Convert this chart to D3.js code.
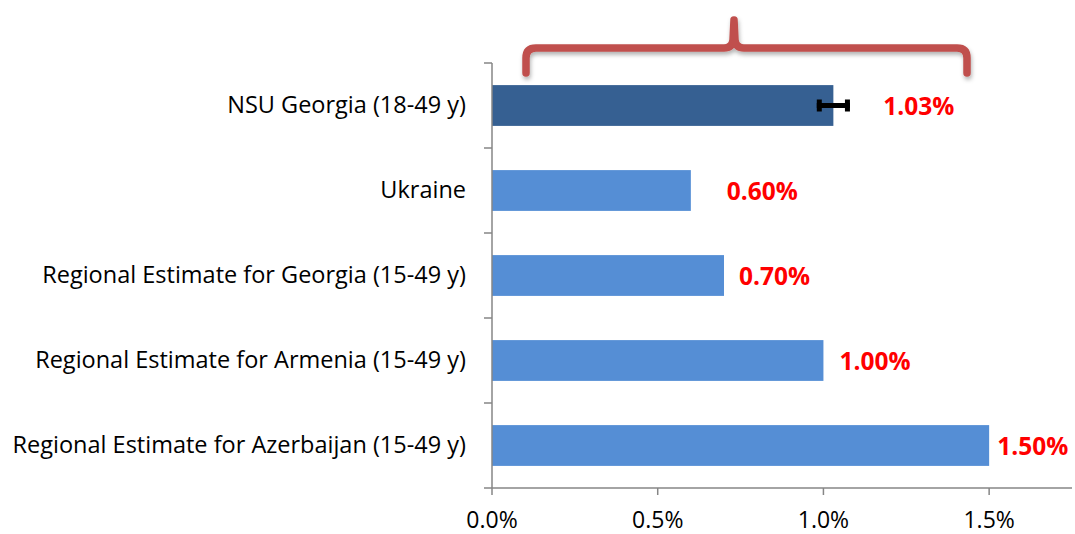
<!DOCTYPE html>
<html><head><meta charset="utf-8">
<script src="https://cdn.jsdelivr.net/npm/d3@7"></script>
<style>body{margin:0;background:#fff}svg{display:block}</style>
</head><body><svg id="c" width="1075" height="534"></svg>
<script>
const categories = ["NSU Georgia (18-49 y)", "Ukraine ", "Regional Estimate for Georgia (15-49 y)", "Regional Estimate for Armenia (15-49 y)", "Regional Estimate for Azerbaijan (15-49 y)"];
const values = [1.03, 0.60, 0.70, 1.00, 1.50];
const valueLabels = ["1.03%", "0.60%", "0.70%", "1.00%", "1.50%"];
const errorLow = [0.98, null, null, null, null];
const errorHigh = [1.08, null, null, null, null];
const xTicks = [0, 0.5, 1.0, 1.5];
const xTickLabels = ["0.0%", "0.5%", "1.0%", "1.5%"];

(function(){
const svg = d3.select("#c");
const mL = 492, mR = 1072, mT = 63, mB = 488;
const x = d3.scaleLinear().domain([0, 1.75]).range([mL, mR]);
const y = d3.scaleBand().domain(categories).range([mT, mB]).paddingInner(0.52).paddingOuter(0.26);
const axisColor = "#868686";
const fontFam = "'Open Sans', 'Liberation Sans', sans-serif";

const defs = svg.append("defs");
const f = defs.append("filter").attr("id","sh").attr("x","-10%").attr("y","-50%").attr("width","120%").attr("height","200%");
f.append("feDropShadow").attr("dx",1).attr("dy",3).attr("stdDeviation",2).attr("flood-color","#000").attr("flood-opacity",0.3);

svg.append("g").selectAll("rect").data(categories).join("rect")
  .attr("x", x(0)).attr("y", d => y(d))
  .attr("width", (d,i) => x(values[i]) - x(0))
  .attr("height", y.bandwidth())
  .attr("fill", (d,i) => i === 0 ? "#366092" : "#558ED5");

categories.forEach((c,i) => {
  if (errorLow[i] == null) return;
  const cy = y(c) + y.bandwidth()/2;
  const g = svg.append("g").attr("fill","#000");
  g.append("rect").attr("x", x(errorLow[i])).attr("width", x(errorHigh[i]) - x(errorLow[i])).attr("y", cy-2.5).attr("height", 5);
  g.append("rect").attr("x", x(errorLow[i])).attr("width", 5).attr("y", cy-6).attr("height", 12);
  g.append("rect").attr("x", x(errorHigh[i])-5).attr("width", 5).attr("y", cy-6).attr("height", 12);
});

const labelOffsets = [50, 36, 15, 16, 8];
svg.append("g").selectAll("text").data(categories).join("text")
  .attr("x", (d,i) => x(values[i]) + labelOffsets[i])
  .attr("y", (d,i) => y(d) + y.bandwidth()/2 + 3)
  .attr("dominant-baseline","middle")
  .attr("fill","#FF0000").attr("font-weight","bold")
  .attr("font-family", fontFam).attr("font-size", 24.5)
  .text((d,i) => valueLabels[i]);

const yAxisG = svg.append("g");
yAxisG.append("line").attr("x1", mL).attr("x2", mL).attr("y1", mT).attr("y2", mB)
  .attr("stroke", axisColor).attr("stroke-width", 1.5);
const bounds = categories.map(c => y(c) - y.step()*y.paddingInner()/2);
bounds.push(mB);
yAxisG.selectAll("line.t").data(bounds).join("line").attr("class","t")
  .attr("x1", mL-8).attr("x2", mL).attr("y1", d=>d).attr("y2", d=>d)
  .attr("stroke", axisColor).attr("stroke-width", 1.5);
yAxisG.selectAll("text").data(categories).join("text")
  .attr("x", 466).attr("y", d => y(d) + y.bandwidth()/2 + 1)
  .attr("text-anchor","end").attr("dominant-baseline","middle")
  .attr("font-family", fontFam).attr("font-size", 23.5).attr("fill","#000")
  .text(d => d);

const xAxisG = svg.append("g");
xAxisG.append("line").attr("x1", mL).attr("x2", mR).attr("y1", mB).attr("y2", mB)
  .attr("stroke", axisColor).attr("stroke-width", 1.5);
xAxisG.selectAll("line.t").data(xTicks).join("line").attr("class","t")
  .attr("x1", d=>x(d)).attr("x2", d=>x(d)).attr("y1", mB).attr("y2", mB+7)
  .attr("stroke", axisColor).attr("stroke-width", 1.5);
xAxisG.selectAll("text").data(xTicks).join("text")
  .attr("x", d=>x(d)).attr("y", 522).attr("text-anchor","middle").attr("dominant-baseline","middle")
  .attr("font-family", fontFam).attr("font-size", 23).attr("fill","#000")
  .text((d,i) => xTickLabels[i]);

const bx0 = 526, bx1 = 967, bmid = 734, byH = 48, byEnd = 73, byTop = 20, r = 10;
const p = `M${bx0},${byEnd} L${bx0},${byH+r} Q${bx0},${byH} ${bx0+r},${byH} L${bmid-10},${byH} Q${bmid-2},${byH} ${bmid-1},${byH-8} L${bmid},${byTop} M${bmid},${byTop} L${bmid+1},${byH-8} Q${bmid+2},${byH} ${bmid+10},${byH} L${bx1-r},${byH} Q${bx1},${byH} ${bx1},${byH+r} L${bx1},${byEnd}`;
svg.append("path").attr("d", p).attr("fill","none").attr("stroke","#C0504D")
  .attr("stroke-width", 7.5).attr("stroke-linecap","round").attr("stroke-linejoin","round")
  .attr("filter","url(#sh)");
})();
</script></body></html>
